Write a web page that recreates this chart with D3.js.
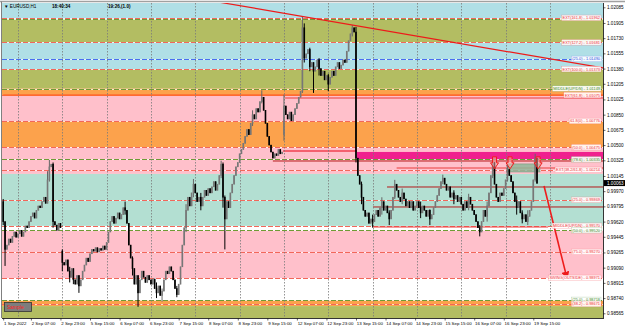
<!DOCTYPE html>
<html>
<head>
<meta charset="utf-8">
<script src="https://cdn.jsdelivr.net/npm/d3@7"></script>
<style>
  html, body { margin: 0; padding: 0; background: #fff; }
  svg { display: block; font-family: "Liberation Sans", Arial, sans-serif; }
</style>
</head>
<body>
<svg id="chart" width="625" height="326"></svg>
<script>
// EURUSD H1 closes, one array per trading day (bar 0 = 1 Sep 16:00)
const sep01 = [0.9962, 0.9930, 0.9935, 0.9942, 0.9938, 0.9945, 0.9950, 0.9944];
const sep02 = [0.9948, 0.9952, 0.9945, 0.9950, 0.9957, 0.9955, 0.9962, 0.9968, 0.9972, 0.9966, 0.9975, 0.9980,
               0.9978, 0.9985, 0.9990, 0.9983, 1.0010, 1.0025, 1.0028, 0.9962, 0.9958, 0.9952, 0.9960, 0.9955];
const sep05 = [0.9915, 0.9912, 0.9918, 0.9905, 0.9898, 0.9908, 0.9895, 0.9890, 0.9900, 0.9888, 0.9895, 0.9905,
               0.9912, 0.9920, 0.9916, 0.9925, 0.9930, 0.9928, 0.9932, 0.9927, 0.9931, 0.9929, 0.9934, 0.9930];
const sep06 = [0.9938, 0.9950, 0.9962, 0.9968, 0.9960, 0.9966, 0.9972, 0.9965, 0.9970, 0.9978, 0.9975, 0.9960,
               0.9935, 0.9920, 0.9908, 0.9890, 0.9900, 0.9880, 0.9895, 0.9905, 0.9898, 0.9892, 0.9900, 0.9895];
const sep07 = [0.9890, 0.9896, 0.9885, 0.9880, 0.9888, 0.9877, 0.9882, 0.9895, 0.9905, 0.9902, 0.9910, 0.9905,
               0.9895, 0.9885, 0.9878, 0.9890, 0.9910, 0.9935, 0.9955, 0.9975, 0.9990, 0.9980, 0.9995, 1.0005];
const sep08 = [0.9995, 0.9985, 0.9990, 0.9980, 0.9990, 0.9998, 0.9992, 1.0000, 0.9995, 1.0002, 1.0008, 0.9998,
               1.0005, 1.0015, 1.0028, 0.9990, 0.9965, 0.9985, 0.9978, 0.9995, 1.0005, 1.0015, 1.0025, 1.0030];
const sep09 = [1.0040, 1.0045, 1.0052, 1.0060, 1.0068, 1.0062, 1.0075, 1.0085, 1.0080, 1.0092, 1.0088, 1.0100,
               1.0105, 1.0090, 1.0075, 1.0060, 1.0050, 1.0042, 1.0035, 1.0040, 1.0038, 1.0045, 1.0040, 1.0042];
const sep12 = [1.0095, 1.0085, 1.0080, 1.0088, 1.0078, 1.0085, 1.0092, 1.0098, 1.0105, 1.0112, 1.0185, 1.0150,
               1.0155, 1.0160, 1.0140, 1.0145, 1.0135, 1.0140, 1.0148, 1.0138, 1.0130, 1.0135, 1.0125, 1.0130];
const sep13 = [1.0120, 1.0128, 1.0135, 1.0130, 1.0140, 1.0145, 1.0138, 1.0142, 1.0148, 1.0145, 1.0158, 1.0170,
               1.0178, 1.0185, 1.0180, 1.0035, 1.0015, 1.0005, 0.9990, 0.9975, 0.9968, 0.9972, 0.9960, 0.9965];
const sep14 = [0.9962, 0.9970, 0.9975, 0.9968, 0.9978, 0.9985, 0.9975, 0.9980, 0.9972, 0.9965, 0.9975, 0.9990,
               1.0005, 0.9998, 0.9990, 0.9985, 0.9995, 0.9988, 0.9980, 0.9985, 0.9978, 0.9985, 0.9975, 0.9980];
const sep15 = [0.9985, 0.9978, 0.9972, 0.9980, 0.9975, 0.9968, 0.9975, 0.9965, 0.9970, 0.9978, 0.9985, 0.9992,
               1.0000, 1.0008, 1.0012, 1.0005, 0.9998, 1.0002, 0.9990, 0.9995, 0.9988, 0.9992, 0.9985, 0.9990];
const sep16 = [0.9982, 0.9975, 0.9985, 0.9978, 0.9990, 0.9982, 0.9975, 0.9970, 0.9962, 0.9955, 0.9950, 0.9962,
               0.9975, 0.9968, 0.9980, 0.9995, 1.0015, 1.0030, 1.0005, 0.9990, 0.9985, 0.9995, 0.9992, 1.0000];
const sep19 = [1.0010, 1.0022, 1.0015, 1.0008, 0.9995, 0.9985, 0.9978, 0.9985, 0.9972, 0.9965, 0.9970, 0.9962,
               0.9968, 0.9975, 0.9985, 1.0010, 1.0035, 1.0006];

// opens that do not equal the previous close (start of data, weekend gaps)
const gapOpens = { 0: 0.9985, 32: 0.9928, 152: 1.0062 };

// visible wicks [high, low] by bar
const wicks = {
  0: [0.9988, 0.9958], 1: [0.9962, 0.9911], 24: [1.0020, 0.9983], 25: [1.0033, 1.0008], 27: [1.0030, 0.9955],
  32: [0.9930, 0.9905], 36: [0.9910, 0.9892], 38: [0.9908, 0.9890], 41: [0.9900, 0.9880], 66: [0.9985, 0.9970],
  70: [0.9922, 0.9900], 73: [0.9900, 0.9864], 83: [0.9892, 0.9874], 86: [0.9885, 0.9870], 94: [0.9888, 0.9875],
  99: [0.9982, 0.9950], 103: [1.0011, 0.9990], 107: [0.9995, 0.9975], 118: [1.0032, 1.0012], 119: [1.0030, 0.9978],
  120: [0.9992, 0.9930], 135: [1.0090, 1.0072], 140: [1.0113, 1.0098], 152: [1.0108, 1.0055], 162: [1.0198, 1.0110],
  163: [1.0190, 1.0145], 166: [1.0162, 1.0135], 168: [1.0145, 1.0110], 171: [1.0150, 1.0130], 176: [1.0132, 1.0112],
  189: [1.0188, 1.0175], 191: [1.0186, 1.0030], 194: [1.0008, 0.9982], 200: [0.9970, 0.9955], 205: [0.9990, 0.9970],
  209: [0.9975, 0.9958], 212: [1.0010, 0.9988], 216: [1.0000, 0.9982], 226: [0.9985, 0.9966], 231: [0.9976, 0.9958],
  238: [1.0016, 1.0005], 244: [0.9998, 0.9982], 252: [0.9994, 0.9975], 258: [0.9958, 0.9945], 262: [0.9985, 0.9962],
  265: [1.0036, 1.0012], 273: [1.0028, 1.0008], 278: [0.9992, 0.9970], 281: [0.9975, 0.9960], 284: [0.9975, 0.9958],
  288: [1.0040, 1.0008]
};

const currentPrice = 1.00063;

// time axis
const tickBars = [0, 15, 31, 47, 63, 79, 95, 111, 127, 143, 159, 175, 191, 207, 223, 239, 255, 271, 287];
const tickLabels = ["1 Sep 2022", "2 Sep 07:00", "2 Sep 23:00", "5 Sep 15:00", "6 Sep 07:00", "6 Sep 23:00",
  "7 Sep 15:00", "8 Sep 07:00", "8 Sep 23:00", "9 Sep 15:00", "12 Sep 07:00", "12 Sep 23:00", "13 Sep 15:00",
  "14 Sep 07:00", "14 Sep 23:00", "15 Sep 15:00", "16 Sep 07:00", "16 Sep 23:00", "19 Sep 15:00"];
const dayStarts = [8, 32, 56, 80, 104, 128, 152, 176, 200, 224, 248, 272, 296];

// price axis
const priceTicks = [1.02085, 1.01905, 1.01730, 1.01555, 1.01380, 1.01205, 1.01025, 1.00850, 1.00675, 1.00500,
  1.00325, 1.00145, 0.99970, 0.99795, 0.99620, 0.99445, 0.99265, 0.99090, 0.98915, 0.98740, 0.98565];

// zone bands: edges top->bottom and the kind of each band between them
const bandEdges = [1.0230, 1.01950, 1.01681, 1.01373, 1.01149, 1.01075, 1.00776, 1.00475, 1.00168,
  0.99570, 0.99520, 0.98971, 0.98718, 0.98648, 0.9840];
const bandKinds = ["sky", "olive", "sky", "olive", "orange", "pink", "orange", "pink", "teal",
  "none", "pink", "none", "orange", "olive"];

// dashed levels with their labels
const levelPrices = [1.01962, 1.01950, 1.01681, 1.01490, 1.01373, 1.01149, 1.01075, 1.00776, 1.00475, 1.00335,
  1.00214, 0.99869, 0.99570, 0.99520, 0.99270, 0.98971, 0.98718, 0.98671];
const levelNames = ["EXT(161.8)", "", "EXT(127.2)", "(25.0)", "EXT(100.0)", "MIDDLE(UP/DN)", "EXT(61.8)",
  "61.8(0)", "(50.0)", "(78.6)", "EXT(38.2/61.8)", "(25.0)", "MIDDLE(UP/DN)", "(50.0)", "(75.0)",
  "SWING(OUTSIDE)", "(25.0)", "(38.2)"];
const levelKinds = ["ext", "mid", "ext", "blue", "ext", "mid", "ext", "ext", "ext", "mid",
  "ext", "ext", "ext", "mid", "ext", "ext", "mid", "ext"];

// solid horizontal lines: price, start bar, end bar (null = right edge), kind
const hlPrices = [1.01075, 1.01042, 1.00432, 1.00317, 1.00237, 1.00018, 0.99788, 0.99558];
const hlFrom = [0, 152.6, 151.5, 146, 213, 207.8, 200.2, 200.2];
const hlTo = [null, null, 191.5, null, null, null, null, 295];
const hlKinds = ["orange", "red", "pinkthick", "dark", "red", "dark", "dark", "red"];

// magenta supply zone and small shaded box
const supplyZone = { from: 191.5, top: 1.00421, bottom: 1.00329 };
const shadedBox = { from: 273.3, to: 290.6, top: 1.00283, bottom: 1.00191 };

// trend line through the 12 and 13 Sep highs, extended
const trendBars = [112, 325];
const trendPrices = [1.02162, 1.01386];

// sell signals and projected move
const sellBars = [266, 274.4, 289.6];
const sellPrice = 1.00365;
const moveBars = [292.8, 305.2];
const movePrices = [1.00030, 0.98971];

const closes = [].concat(sep01, sep02, sep05, sep06, sep07, sep08, sep09, sep12, sep13, sep14, sep15, sep16, sep19);
const candles = closes.map((c, i) => {
  const o = gapOpens[i] !== undefined ? gapOpens[i] : closes[i - 1];
  const w = wicks[i];
  return {
    i: i, o: o, c: c,
    h: w ? Math.max(w[0], o, c) : Math.max(o, c),
    l: w ? Math.min(w[1], o, c) : Math.min(o, c)
  };
});

const bandColor = { sky: "#b0dfe6", olive: "#b3bd62", orange: "#fca24c", pink: "#ffc0cb", teal: "#b3dfd2", none: "#ffffff" };
const levelColor = { ext: "#f2675a", mid: "#6f9b35", blue: "#4a6ef0" };
const labelColor = { ext: "#f0303a", mid: "#3f8a2a", blue: "#3050e0" };
const hlStyle = {
  orange: { c: "#ff6a30", w: 1.6 }, red: { c: "#ea3c3c", w: 1.1 }, pinkthick: { c: "#f4606e", w: 2.2 }, dark: { c: "#b51a1a", w: 1 }
};

const pL = 2, pR = 603, pT = 3, pB = 318;
const x = d3.scaleLinear().domain([0, 325]).range([3.2, 603.5]);
const y = d3.scaleLinear().domain([0.98565, 1.02085]).range([313.3, 7.3]);

const svg = d3.select("#chart");
const defs = svg.append("defs");
defs.append("clipPath").attr("id", "plot")
  .append("rect").attr("x", pL).attr("y", pT).attr("width", pR - pL).attr("height", pB - pT);
defs.append("marker").attr("id", "head").attr("viewBox", "0 0 10 10").attr("refX", 8).attr("refY", 5)
  .attr("markerWidth", 5).attr("markerHeight", 5).attr("orient", "auto")
  .append("path").attr("d", "M0,0 L10,5 L0,10 Z").attr("fill", "#ee1c1c");

svg.append("rect").attr("width", 625).attr("height", 326).attr("fill", "#fff");

const g = svg.append("g").attr("clip-path", "url(#plot)");

// bands
g.append("g").selectAll("rect")
  .data(bandKinds)
  .enter().append("rect")
  .attr("x", pL).attr("width", pR - pL)
  .attr("y", (d, i) => y(bandEdges[i]))
  .attr("height", (d, i) => y(bandEdges[i + 1]) - y(bandEdges[i]))
  .attr("fill", d => bandColor[d]);

// supply zone
g.append("rect")
  .attr("x", x(supplyZone.from)).attr("width", pR - x(supplyZone.from))
  .attr("y", y(supplyZone.top)).attr("height", y(supplyZone.bottom) - y(supplyZone.top))
  .attr("fill", "#f0208e");

// dashed levels
const lv = g.append("g");
levelPrices.forEach((p, i) => {
  const yy = Math.round(y(p)) + 0.5;
  lv.append("line").attr("x1", pL).attr("x2", pR).attr("y1", yy).attr("y2", yy)
    .attr("stroke", "#fff").attr("stroke-opacity", 0.7).attr("stroke-width", 1);
  lv.append("line").attr("x1", pL).attr("x2", pR).attr("y1", yy).attr("y2", yy)
    .attr("stroke", levelColor[levelKinds[i]]).attr("stroke-width", 1)
    .attr("stroke-dasharray", "5,2");
});

// solid lines
hlPrices.forEach((p, i) => {
  const st = hlStyle[hlKinds[i]];
  g.append("line")
    .attr("x1", x(hlFrom[i])).attr("x2", hlTo[i] === null ? pR : x(hlTo[i]))
    .attr("y1", y(p)).attr("y2", y(p))
    .attr("stroke", st.c).attr("stroke-width", st.w);
});

// vertical grid
g.append("g").selectAll("line")
  .data(dayStarts)
  .enter().append("line")
  .attr("x1", d => Math.round(x(d)) + 0.5).attr("x2", d => Math.round(x(d)) + 0.5)
  .attr("y1", pT).attr("y2", pB)
  .attr("stroke", "#7a7a7a").attr("stroke-width", 0.8).attr("stroke-dasharray", "1.5,1.5");

// shaded box
g.append("rect")
  .attr("x", x(shadedBox.from)).attr("width", x(shadedBox.to) - x(shadedBox.from))
  .attr("y", y(shadedBox.top)).attr("height", y(shadedBox.bottom) - y(shadedBox.top))
  .attr("fill", "#8fb79a").attr("fill-opacity", 0.85).attr("stroke", "#6f9a7c").attr("stroke-width", 0.6);

// candles
const cg = g.append("g");
cg.selectAll("line")
  .data(candles)
  .enter().append("line")
  .attr("x1", d => x(d.i)).attr("x2", d => x(d.i))
  .attr("y1", d => y(d.h)).attr("y2", d => y(d.l))
  .attr("stroke", d => d.c >= d.o ? "#666" : "#000").attr("stroke-width", 1);
cg.selectAll("rect")
  .data(candles)
  .enter().append("rect")
  .attr("x", d => x(d.i) - 0.8).attr("width", 1.6)
  .attr("y", d => y(Math.max(d.o, d.c)) - 0.3)
  .attr("height", d => Math.max(1, Math.abs(y(d.o) - y(d.c)) + 0.6))
  .attr("fill", d => d.c >= d.o ? "#777" : "#000");

// trend line
g.append("line")
  .attr("x1", x(trendBars[0])).attr("y1", y(trendPrices[0]))
  .attr("x2", x(trendBars[1])).attr("y2", y(trendPrices[1]))
  .attr("stroke", "#ee1a1a").attr("stroke-width", 1.2);

// sell arrows
g.append("g").selectAll("path")
  .data(sellBars)
  .enter().append("path")
  .attr("d", d => {
    const cx = x(d), y0 = y(sellPrice);
    return `M${cx - 2},${y0} L${cx + 2},${y0} L${cx + 2},${y0 + 6} L${cx + 4},${y0 + 6} L${cx},${y0 + 12} L${cx - 4},${y0 + 6} L${cx - 2},${y0 + 6} Z`;
  })
  .attr("fill", "#ffb0b0").attr("fill-opacity", 0.5)
  .attr("stroke", "#f01c1c").attr("stroke-width", 1);

// projected move arrow
g.append("line")
  .attr("x1", x(moveBars[0])).attr("y1", y(movePrices[0]))
  .attr("x2", x(moveBars[1])).attr("y2", y(movePrices[1]))
  .attr("stroke", "#ee1c1c").attr("stroke-width", 1.6)
  .attr("marker-end", "url(#head)");

// level labels
const lab = g.append("g").attr("font-size", 3.9);
levelPrices.forEach((p, i) => {
  if (!levelNames[i]) return;
  const t = lab.append("text")
    .attr("x", 600).attr("y", y(p) + 1.4)
    .attr("text-anchor", "end")
    .attr("fill", labelColor[levelKinds[i]])
    .text(levelNames[i] + " - " + p.toFixed(5));
  const b = t.node().getBBox();
  lab.insert("rect", "text")
    .attr("x", b.x - 1).attr("y", b.y - 0.3).attr("width", b.width + 2).attr("height", b.height + 0.6)
    .attr("fill", "#fff").attr("fill-opacity", 0.9)
    .attr("stroke", labelColor[levelKinds[i]]).attr("stroke-opacity", 0.35).attr("stroke-width", 0.5);
});

// header
const hd = svg.append("g").attr("font-size", 4.6).attr("fill", "#000");
hd.append("text").attr("x", 4).attr("y", 8).text("\u25BC EURUSD,H1");
hd.append("text").attr("x", 52).attr("y", 8).attr("font-weight", "bold").text("18:40:34");
hd.append("text").attr("x", 108).attr("y", 8).attr("font-weight", "bold").text("19:26,(1.0)");

// demo badge
svg.append("rect").attr("x", 4.5).attr("y", 302.5).attr("width", 27).attr("height", 9)
  .attr("fill", "#7d7d7d").attr("stroke", "#333").attr("stroke-width", 0.8);
svg.append("text").attr("x", 7).attr("y", 309).attr("font-size", 5).attr("fill", "#ff2020").text("Sample");

// frame
svg.append("line").attr("x1", 0).attr("x2", 625).attr("y1", 1.5).attr("y2", 1.5).attr("stroke", "#a0a0a0").attr("stroke-width", 1.5);
svg.append("line").attr("x1", 1.5).attr("x2", 1.5).attr("y1", 1.5).attr("y2", pB).attr("stroke", "#808080");
svg.append("line").attr("x1", pL).attr("x2", pR).attr("y1", pB + 0.5).attr("y2", pB + 0.5).attr("stroke", "#000").attr("stroke-width", 0.8);
svg.append("line").attr("x1", pR + 0.5).attr("x2", pR + 0.5).attr("y1", pT).attr("y2", pB + 1).attr("stroke", "#000").attr("stroke-width", 0.8);

// price axis
const ya = svg.append("g")
  .attr("transform", "translate(" + (pR + 0.5) + ",0)")
  .call(d3.axisRight(y).tickValues(priceTicks).tickFormat(d3.format(".5f")).tickSize(2).tickPadding(1.5));
ya.select(".domain").remove();
ya.selectAll("text").attr("font-size", 4.6).attr("font-family", "Liberation Sans, Arial, sans-serif");
ya.selectAll("line").attr("stroke-width", 0.6);

// current price marker
const cy = y(currentPrice);
svg.append("rect").attr("x", pR + 1).attr("y", cy - 3).attr("width", 21).attr("height", 6).attr("fill", "#000");
svg.append("text").attr("x", pR + 4).attr("y", cy + 1.6).attr("font-size", 4.6).attr("fill", "#fff")
  .text(currentPrice.toFixed(5));

// time axis
const xa = svg.append("g")
  .attr("transform", "translate(0," + (pB + 0.5) + ")")
  .call(d3.axisBottom(x).tickValues(tickBars).tickFormat((d, i) => tickLabels[i]).tickSize(2).tickPadding(1));
xa.select(".domain").remove();
xa.selectAll("text").attr("font-size", 4.4).attr("text-anchor", "start").attr("dx", "0.3")
  .attr("font-family", "Liberation Sans, Arial, sans-serif");
xa.selectAll("line").attr("stroke-width", 0.6);
</script>
</body>
</html>
